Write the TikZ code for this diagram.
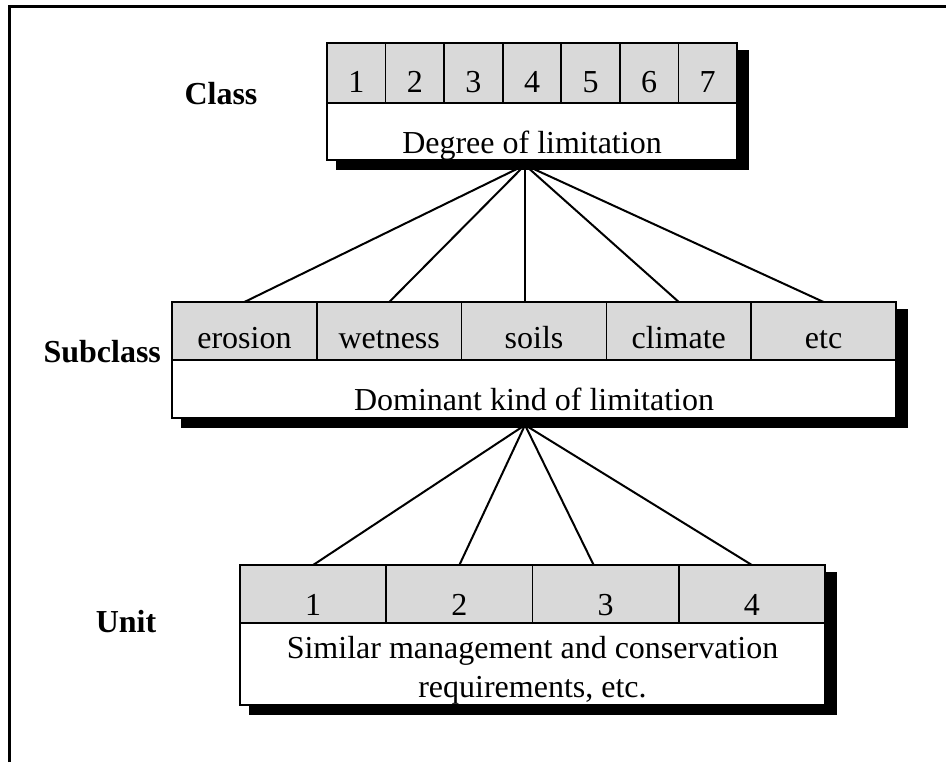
\documentclass[tikz,border=0pt]{standalone}
\usepackage{fontspec}
\setmainfont{Liberation Serif}
\usetikzlibrary{positioning,backgrounds}
\definecolor{cellgray}{RGB}{217,217,217}

\begin{document}
\begin{tikzpicture}[x=0.5pt, y=-0.5pt, font=\fontsize{16}{19.5}\selectfont,
	cell/.style={draw, fill=cellgray, line width=0.8pt, inner sep=0pt, outer sep=0pt, text depth=0pt},
	descbox/.style={draw, fill=white, line width=0.8pt, inner sep=0pt, outer sep=0pt, anchor=north west},
	level/.style={font=\fontsize{16}{19.5}\selectfont\bfseries, anchor=base},
	link/.style={line width=1pt},
	shade/.style={fill=black}]
	\useasboundingbox (0,0) rectangle (946,762);
	\draw [line width=1.5pt] (9.5,762) -- (9.5,6.5) -- (946,6.5);

	% class
	\foreach \n in {1,...,7}
		\node [cell, minimum width=29.29pt, minimum height=30pt, text height=19pt] (c\n) at ({327+58.57*(\n-0.5)}, 73) {\n};
	\node [descbox, minimum width=205pt, minimum height=28.5pt, text height=21.5pt, text depth=0pt] (degree) at (c1.south west) {Degree of limitation};
	\node [level] (class) at (221, 104) {Class};

	% subclass
	\foreach \name [count=\i] in {erosion,wetness,soils,climate,etc}
		\node [cell, minimum width=72.4pt, minimum height=29pt, text height=17pt] (\name) at ({172+144.8*(\i-0.5)}, 331) {\name};
	\node [descbox, minimum width=362pt, minimum height=29pt, text height=21pt, text depth=0pt] (dominant) at (erosion.south west) {Dominant kind of limitation};
	\node [level, anchor=base east] (subclass) at (168, 362) {Subclass};

	% unit
	\foreach \n in {1,...,4}
		\node [cell, minimum width=73.13pt, minimum height=29pt, text height=21pt] (u\n) at ({240+146.25*(\n-0.5)}, 594) {\n};
	\node [descbox, minimum width=292.5pt, minimum height=41pt, align=center, text height=33pt, text depth=0pt] (similar) at (u1.south west) {Similar management and conservation\\requirements, etc.};
	\node [level] (unit) at (126, 632) {Unit};

	\begin{pgfonlayer}{background}
		\coordinate (hubA) at ([shift={(-7,5)}]degree.south);
		\coordinate (hubB) at ([shift={(-9,7)}]dominant.south);
		\foreach \name in {erosion,wetness,climate,etc}
			\draw [link] (hubA) -- (\name.north);
		\draw [link] (hubA) -- (hubA |- soils.north);
		\foreach \n in {1,2,4}
			\draw [link] (hubB) -- (u\n.north);
		\draw [link] (hubB) -- ([xshift=-6pt]u3.north);
		% shadows
		\fill [shade] ([shift={(9,7)}]c1.north west) rectangle ([shift={(12,10)}]degree.south east);
		\fill [shade] ([shift={(9,7)}]erosion.north west) rectangle ([shift={(12,10)}]dominant.south east);
		\fill [shade] ([shift={(9,7)}]u1.north west) rectangle ([shift={(12,10)}]similar.south east);
	\end{pgfonlayer}
\end{tikzpicture}
\end{document}
